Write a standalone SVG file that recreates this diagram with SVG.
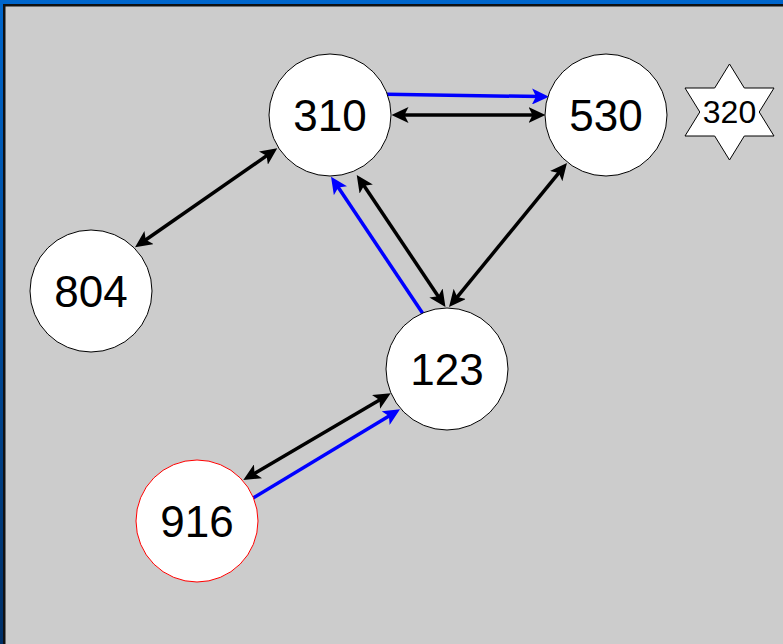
<svg xmlns="http://www.w3.org/2000/svg" width="783" height="644" viewBox="0 0 783 644">
  <style>
    .node { fill: #ffffff; stroke: #000000; stroke-width: 1; }
    .node.red { stroke: #ff0000; }
    .label { font-family: "Liberation Sans", Arial, sans-serif; font-size: 44px; fill: #000000; text-anchor: middle; }
    .label.small { font-size: 32px; }
    .edge { fill: none; stroke-width: 3.5; stroke-linecap: butt; }
    .edge.black { stroke: #000000; marker-end: url(#head-black); }
    .edge.both { marker-start: url(#head-black); }
    .edge.blue { stroke: #0000ff; marker-end: url(#head-blue); }
  </style>
  <defs>
    <linearGradient id="frame" x1="0" y1="0" x2="0" y2="1">
      <stop offset="0" stop-color="#0066cc"/>
      <stop offset="1" stop-color="#002f66"/>
    </linearGradient>
    <marker id="head-black" viewBox="0 0 17 16" refX="9" refY="8" markerWidth="17" markerHeight="16" markerUnits="userSpaceOnUse" orient="auto-start-reverse">
      <path d="M17,8 L0,0 L4,8 L0,16 Z" fill="#000000"/>
    </marker>
    <marker id="head-blue" viewBox="0 0 17 16" refX="9" refY="8" markerWidth="17" markerHeight="16" markerUnits="userSpaceOnUse" orient="auto-start-reverse">
      <path d="M17,8 L0,0 L4,8 L0,16 Z" fill="#0000ff"/>
    </marker>
  </defs>

  <!-- background panel with blue frame and inner shadow edge -->
  <rect x="0" y="0" width="783" height="644" fill="url(#frame)"/>
  <rect x="3" y="4" width="780" height="640" fill="#111111"/>
  <rect x="5.5" y="6.5" width="777.5" height="637.5" fill="#cccccc"/>

  <!-- connectors -->
  <g id="connectors">
    <line class="edge blue" x1="387" y1="94.3" x2="541" y2="96.6"/>
    <line class="edge black both" x1="399.5" y1="115" x2="537.5" y2="115"/>
    <line class="edge black both" x1="141.6" y1="242.7" x2="270.7" y2="152.9"/>
    <line class="edge black both" x1="361.2" y1="181.6" x2="441" y2="300.4"/>
    <line class="edge blue" x1="423.3" y1="314.3" x2="335.5" y2="183.3"/>
    <line class="edge black both" x1="454.1" y1="300.8" x2="561.9" y2="169.2"/>
    <line class="edge black both" x1="250.2" y1="475.9" x2="383.8" y2="397.4"/>
    <line class="edge blue" x1="252.7" y1="498.3" x2="393.2" y2="413.4"/>
  </g>

  <!-- nodes -->
  <g id="n310">
    <circle class="node" cx="330" cy="115" r="61"/>
    <text class="label" x="330" y="131">310</text>
  </g>
  <g id="n530">
    <circle class="node" cx="606" cy="115" r="61"/>
    <text class="label" x="606" y="131">530</text>
  </g>
  <g id="n804">
    <circle class="node" cx="91" cy="291" r="61"/>
    <text class="label" x="91" y="307">804</text>
  </g>
  <g id="n123">
    <circle class="node" cx="447" cy="369" r="61"/>
    <text class="label" x="447" y="385">123</text>
  </g>
  <g id="n916">
    <circle class="node red" cx="197" cy="521" r="61"/>
    <text class="label" x="197" y="537">916</text>
  </g>
  <g id="n320">
    <polygon class="node" points="729.5,64 744.3,88 774,88 759.2,112 774,136 744.3,136 729.5,160 714.7,136 685,136 699.8,112 685,88 714.7,88"/>
    <text class="label small" x="729.5" y="123">320</text>
  </g>
</svg>
